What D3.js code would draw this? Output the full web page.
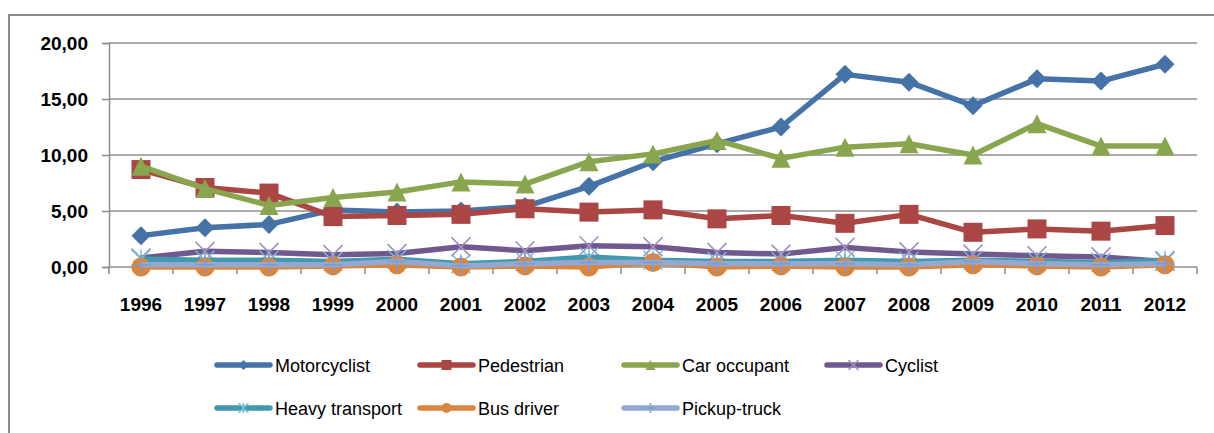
<!DOCTYPE html>
<html>
<head>
<meta charset="utf-8">
<script src="https://cdn.jsdelivr.net/npm/d3@7"></script>
<style>
  body { margin: 0; background: #fff; }
  svg { display: block; }
  text { font-family: "Liberation Sans", Arial, sans-serif; fill: #000; }
</style>
</head>
<body>
<script>
// categories
var years = ["1996","1997","1998","1999","2000","2001","2002","2003","2004",
             "2005","2006","2007","2008","2009","2010","2011","2012"];

// series values
var motorcyclist = [2.8,3.5,3.8,5.1,4.9,5.0,5.4,7.2,9.4,11.0,12.5,17.2,16.5,14.4,16.8,16.6,18.1];
var pedestrian   = [8.7,7.1,6.6,4.5,4.6,4.7,5.2,4.9,5.1,4.3,4.6,3.9,4.7,3.1,3.4,3.2,3.7];
var carOccupant  = [9.0,7.0,5.5,6.2,6.7,7.6,7.4,9.4,10.1,11.3,9.7,10.7,11.0,10.0,12.8,10.8,10.8];
var cyclist      = [0.8,1.4,1.3,1.1,1.2,1.8,1.45,1.9,1.8,1.3,1.15,1.75,1.35,1.15,1.0,0.9,0.5];
var heavyTransport = [0.7,0.6,0.6,0.5,0.7,0.3,0.5,0.9,0.6,0.5,0.5,0.6,0.5,0.6,0.5,0.4,0.6];
var busDriver    = [0.0,0.0,0.0,0.1,0.2,0.0,0.1,0.0,0.4,0.0,0.1,0.0,0.0,0.2,0.1,0.0,0.2];
var pickupTruck  = [0.2,0.2,0.2,0.2,0.5,0.1,0.3,0.4,0.4,0.3,0.3,0.3,0.2,0.5,0.3,0.2,0.3];

var seriesNames = ["Motorcyclist","Pedestrian","Car occupant","Cyclist",
                   "Heavy transport","Bus driver","Pickup-truck"];
var yTicks = [0,5,10,15,20];

var width = 1214, height = 433;

var svg = d3.select("body").append("svg")
  .attr("width", width)
  .attr("height", height);

// outer frame (only top and left visible)
svg.append("path")
  .attr("d", "M9,433V15H1214")
  .attr("fill", "none")
  .attr("stroke", "#8c8c8c")
  .attr("stroke-width", 2);

var x = d3.scaleBand().domain(years).range([109, 1197]);
var y = d3.scaleLinear().domain([0, 20]).range([267, 43]);

var cx = function(yr){ return x(yr) + x.bandwidth()/2; };

// gridlines
svg.append("g").selectAll("line")
  .data(yTicks.filter(function(d){ return d > 0; }))
  .enter().append("line")
  .attr("x1", 109).attr("x2", 1197)
  .attr("y1", function(d){ return y(d); })
  .attr("y2", function(d){ return y(d); })
  .attr("stroke", "#8e8e8e")
  .attr("stroke-width", 1.5);

// y axis
var yAxis = svg.append("g")
  .attr("transform", "translate(109,0)")
  .call(d3.axisLeft(y).tickValues(yTicks).tickSize(7).tickPadding(14)
    .tickFormat(function(d){ return d3.format(".2f")(d).replace(".", ","); }));
yAxis.select(".domain").attr("stroke", "#8e8e8e").attr("stroke-width", 1.5);
yAxis.selectAll(".tick line").attr("stroke", "#8e8e8e").attr("stroke-width", 1.5);
yAxis.selectAll("text")
  .attr("font-family", "Liberation Sans, Arial, sans-serif")
  .attr("font-size", 19).attr("font-weight", "bold").attr("fill", "#111");

// x axis
var xg = svg.append("g");
xg.append("line")
  .attr("x1", 109).attr("x2", 1197).attr("y1", y(0)).attr("y2", y(0))
  .attr("stroke", "#8e8e8e").attr("stroke-width", 1.5);
var bounds = years.map(function(d){ return x(d); }).concat([1197]);
xg.selectAll("line.tk").data(bounds).enter().append("line")
  .attr("class", "tk")
  .attr("x1", function(d){ return d; }).attr("x2", function(d){ return d; })
  .attr("y1", y(0)).attr("y2", y(0) + 7)
  .attr("stroke", "#8e8e8e").attr("stroke-width", 1.5);
xg.selectAll("text").data(years).enter().append("text")
  .attr("x", function(d){ return cx(d); })
  .attr("y", 311)
  .attr("text-anchor", "middle")
  .attr("font-size", 19).attr("font-weight", "bold").attr("fill", "#111")
  .text(function(d){ return d; });

// series
var series = [
  {name: seriesNames[0], values: motorcyclist, color: "#4572A7", marker: "diamond"},
  {name: seriesNames[1], values: pedestrian, color: "#AA4643", marker: "square"},
  {name: seriesNames[2], values: carOccupant, color: "#89A54E", marker: "triangle"},
  {name: seriesNames[3], values: cyclist, color: "#71588F", marker: "x", mcolor: "#a28fc4"},
  {name: seriesNames[4], values: heavyTransport, color: "#4198AF", marker: "star", mcolor: "#6cc0d6"},
  {name: seriesNames[5], values: busDriver, color: "#DB843D", marker: "circle"},
  {name: seriesNames[6], values: pickupTruck, color: "#93A9CF", marker: "plus", mcolor: "#7f9ccf"}
];

function drawMarker(g, type, color, mcolor, s) {
  // s = half size
  if (type === "diamond") {
    g.append("path").attr("d", "M0,"+(-s)+"L"+s+",0L0,"+s+"L"+(-s)+",0Z").attr("fill", color);
  } else if (type === "square") {
    g.append("rect").attr("x", -s).attr("y", -s).attr("width", 2*s).attr("height", 2*s).attr("fill", color);
  } else if (type === "triangle") {
    g.append("path").attr("d", "M0,"+(-s)+"L"+s+","+s+"L"+(-s)+","+s+"Z").attr("fill", color);
  } else if (type === "circle") {
    g.append("circle").attr("r", s).attr("fill", color);
  } else if (type === "x") {
    g.append("path").attr("d", "M"+(-s)+","+(-s)+"L"+s+","+s+"M"+(-s)+","+s+"L"+s+","+(-s))
      .attr("stroke", mcolor).attr("stroke-width", 1.6).attr("fill", "none");
  } else if (type === "star") {
    g.append("path").attr("d", "M"+(-s)+","+(-s)+"L"+s+","+s+"M"+(-s)+","+s+"L"+s+","+(-s)+"M0,"+(-s)+"V"+s)
      .attr("stroke", mcolor).attr("stroke-width", 1.4).attr("fill", "none");
  } else if (type === "plus") {
    g.append("path").attr("d", "M"+(-s)+",0H"+s+"M0,"+(-s)+"V"+s)
      .attr("stroke", mcolor).attr("stroke-width", 1.6).attr("fill", "none");
  }
}

var line = d3.line()
  .x(function(d, i){ return cx(years[i]); })
  .y(function(d){ return y(d); });

var gs = svg.append("g");
series.forEach(function(s) {
  var g = gs.append("g");
  g.append("path")
    .datum(s.values)
    .attr("d", line)
    .attr("fill", "none")
    .attr("stroke", s.color)
    .attr("stroke-width", 5.5)
    .attr("stroke-linejoin", "round");
  s.values.forEach(function(v, i) {
    var m = g.append("g").attr("transform", "translate(" + cx(years[i]) + "," + y(v) + ")");
    drawMarker(m, s.marker, s.color, s.mcolor, 9.5);
  });
});

// legend
var legX = [217, 420, 624, 827];
var legY = [365, 408];
series.forEach(function(s, i) {
  var col = i < 4 ? i : i - 4;
  var row = i < 4 ? 0 : 1;
  var g = svg.append("g").attr("transform", "translate(" + legX[col] + "," + legY[row] + ")");
  g.append("line").attr("x1", 0).attr("x2", 53).attr("y1", 0).attr("y2", 0)
    .attr("stroke", s.color).attr("stroke-width", 5.5).attr("stroke-linecap", "round");
  var m = g.append("g").attr("transform", "translate(26.5,0)");
  drawMarker(m, s.marker, s.color, s.mcolor, 5);
  g.append("text").attr("x", 58).attr("y", 6.5)
    .attr("font-size", 18).attr("fill", "#111")
    .text(s.name);
});
</script>
</body>
</html>
